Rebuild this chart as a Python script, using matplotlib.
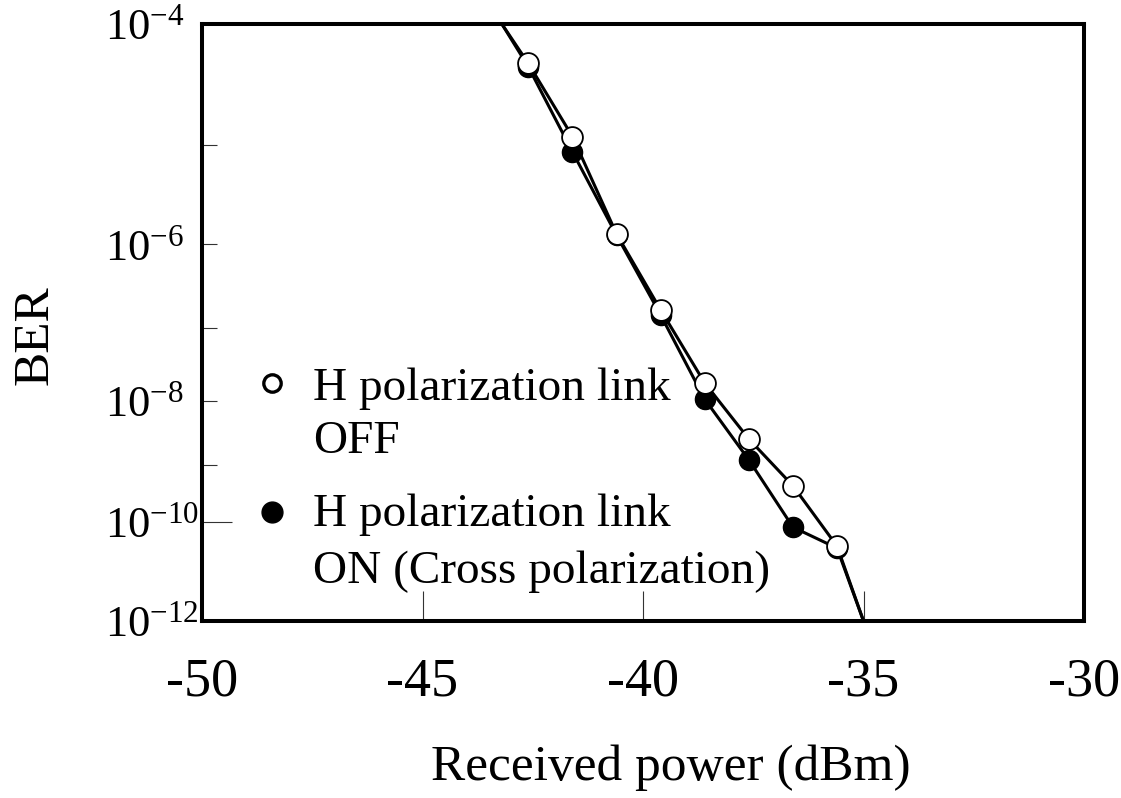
"""BER of the V polarization link versus received power, measured with the
H polarization link switched off and on (cross polarization)."""

import numpy as np
import matplotlib

matplotlib.use('Agg')
import matplotlib.pyplot as plt

plt.rcParams['font.family'] = ['Liberation Serif', 'DejaVu Serif']
plt.rcParams['mathtext.fontset'] = 'custom'
plt.rcParams['mathtext.rm'] = 'Liberation Serif'

# measured points (received power in dBm, bit error rate)
power_off = [-42.6, -41.6, -40.6, -39.6, -38.6, -37.6, -36.6, -35.6]
ber_off = [5.0e-5, 1.2e-5, 1.3e-6, 1.7e-7, 1.8e-8, 2.6e-9, 4.4e-10, 3.5e-11]
power_on = [-42.6, -41.6, -40.6, -39.6, -38.6, -37.6, -36.6, -35.6]
ber_on = [4.7e-5, 8.7e-6, 1.26e-6, 1.47e-7, 1.05e-8, 1.2e-9, 8.0e-11, 3.2e-11]

# extrapolated ends shared by both curves
fit_power_start, fit_ber_start = -43.2, 1e-4
fit_power_end, fit_ber_end = -35.0, 1e-12

x_ticks = [-50, -45, -40, -35, -30]
y_ticks = [1e-12, 1e-10, 1e-8, 1e-6, 1e-4]
y_tick_labels = ['$\\mathrm{10^{-12}}$', '$\\mathrm{10^{-10}}$', '$\\mathrm{10^{-8}}$',
                 '$\\mathrm{10^{-6}}$', '$\\mathrm{10^{-4}}$']
y_minor = [1e-9, 1e-7, 1e-5]

legend_off = 'H polarization link\nOFF'
legend_on = 'H polarization link\nON (Cross polarization)'


def _ber_forward(b):
    with np.errstate(all='ignore'):
        return -np.log10(-np.log10(b))


def _ber_inverse(v):
    with np.errstate(all='ignore'):
        return 10.0 ** (-(10.0 ** (-v)))


def _extend(power, ber):
    return ([fit_power_start] + list(power) + [fit_power_end],
            [fit_ber_start] + list(ber) + [fit_ber_end])


fig = plt.figure(figsize=(11.21, 7.98), dpi=100)
ax = fig.add_axes([0.1802, 0.2218, 0.7868, 0.7481])
ax.set_yscale('function', functions=(_ber_forward, _ber_inverse))

x_on, y_on = _extend(power_on, ber_on)
x_off, y_off = _extend(power_off, ber_off)
ax.plot(x_on, y_on, color='black', lw=2.2, zorder=2)
ax.plot(x_off, y_off, color='black', lw=2.2, zorder=2)
ax.plot(power_on, ber_on, 'o', ms=14.5, mfc='black', mec='black', mew=1.0, zorder=3)
ax.plot(power_off, ber_off, 'o', ms=15, mfc='white', mec='black', mew=1.3, zorder=4)

ax.set_xlim(-50, -30)
ax.set_ylim(1e-12, 1e-4)

ax.set_xticks(x_ticks)
ax.set_xticklabels([str(t) for t in x_ticks])
ax.set_yticks(y_ticks)
ax.set_yticklabels(y_tick_labels)
ax.set_yticks(y_minor, minor=True)

ax.tick_params(axis='x', which='major', direction='in', length=21.6, width=0.8,
               color='#333333', labelsize=39, pad=26)
ax.tick_params(axis='y', which='both', direction='in', length=10.8, width=0.8,
               color='#333333', labelsize=32, pad=70)
for lbl in ax.get_yticklabels():
    lbl.set_horizontalalignment('left')
# the 10^-10 tick is drawn longer than the rest
ax.yaxis.get_major_ticks()[1].tick1line.set_markersize(21.6)

for spine in ax.spines.values():
    spine.set_linewidth(2.9)

ax.set_xlabel('Received power (dBm)', fontsize=37)
ax.xaxis.set_label_coords(0.532, -0.245)
ax.xaxis.label.set_verticalalignment('center')
ax.set_ylabel('BER', fontsize=37)
ax.yaxis.set_label_coords(-0.189, 0.479)
ax.yaxis.label.set_verticalalignment('center')

# hand-placed legend: marker beside the first line of each entry
ax.plot([0.0794], [0.3987], 'o', ms=12.5, mfc='white', mec='black', mew=2.4,
        transform=ax.transAxes, clip_on=False)
ax.plot([0.0794], [0.1826], 'o', ms=15, mfc='black', mec='black',
        transform=ax.transAxes, clip_on=False)
ax.text(0.1259, 0.2814, legend_off, transform=ax.transAxes, fontsize=34,
        va='baseline', ha='left', linespacing=1.32)
ax.text(0.1259, 0.0637, legend_on, transform=ax.transAxes, fontsize=34,
        va='baseline', ha='left', linespacing=1.45)

fig.savefig('out.png', dpi=100)
